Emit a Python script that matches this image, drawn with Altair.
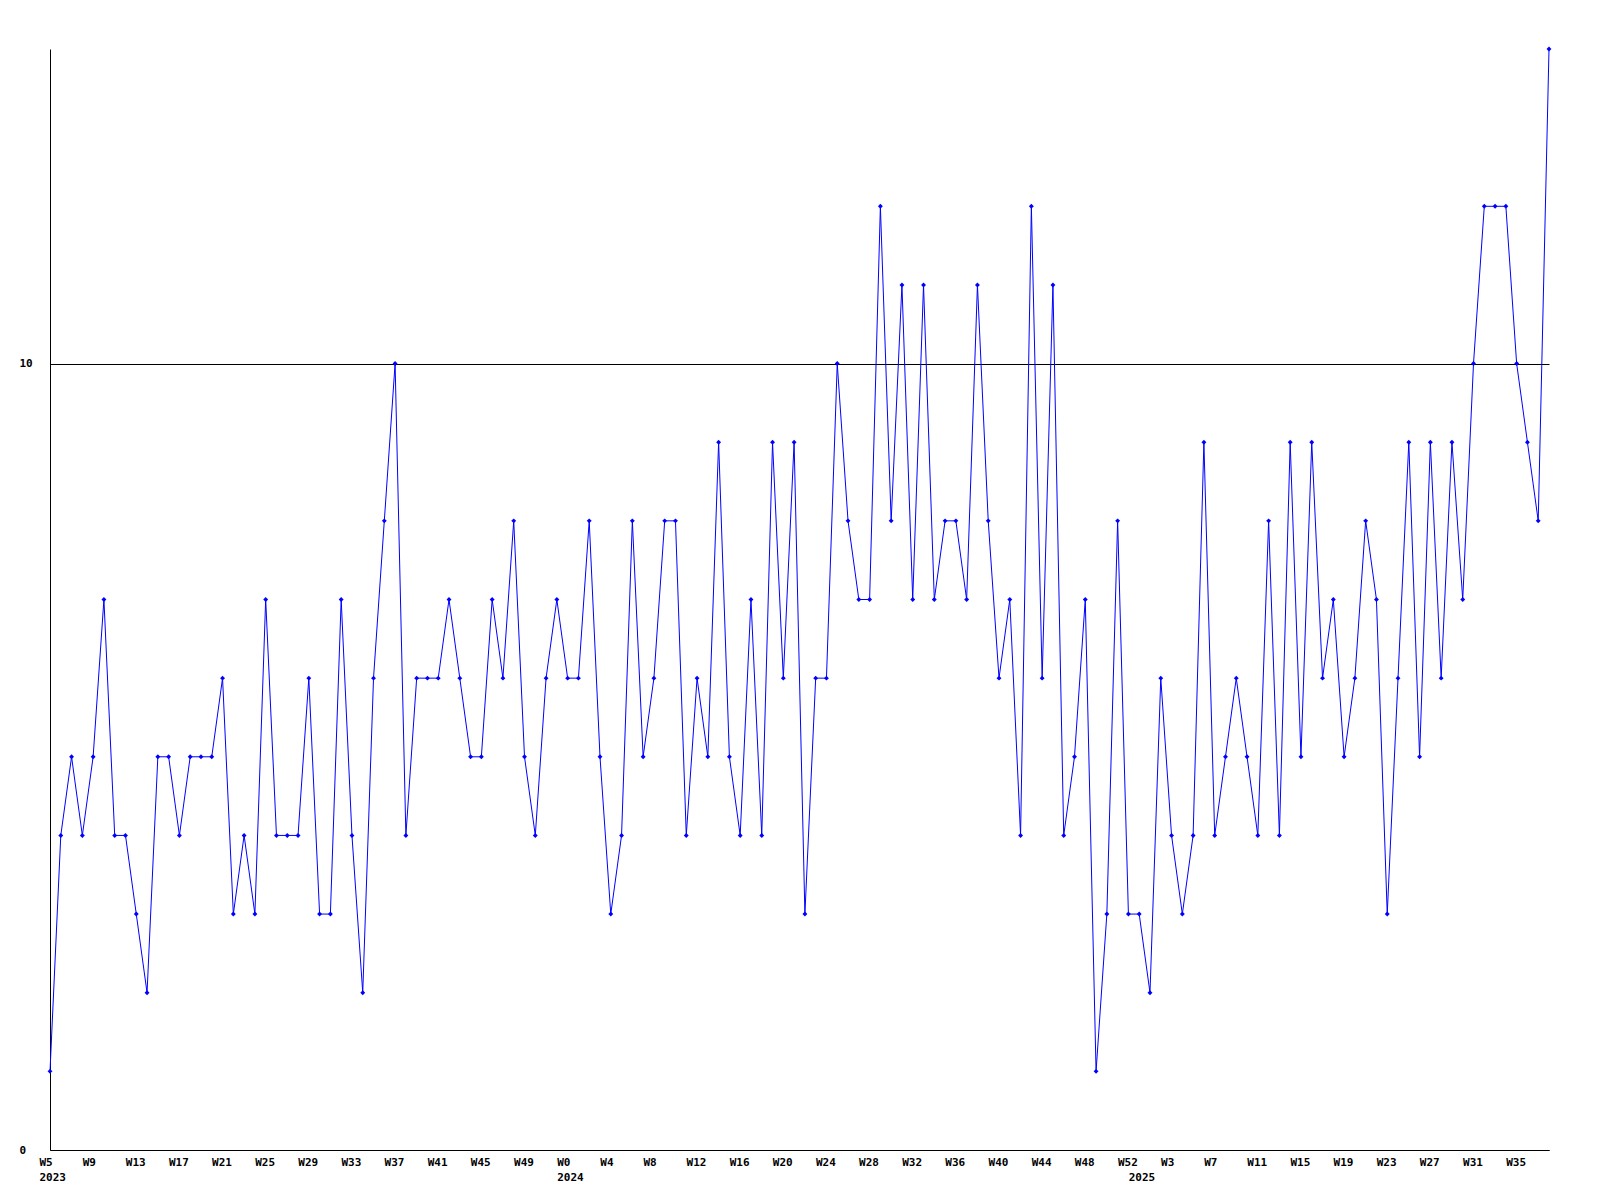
import json
import altair as alt
import pandas as pd

# Weekly values, 2023 W5 .. 2025 W38
values = [1, 4, 5, 4, 5, 7, 4, 4, 3, 2,
          5, 5, 4, 5, 5, 5, 6, 3, 4, 3,
          7, 4, 4, 4, 6, 3, 3, 7, 4, 2,
          6, 8, 10, 4, 6, 6, 6, 7, 6, 5,
          5, 7, 6, 8, 5, 4, 6, 7, 6, 6,
          8, 5, 3, 4, 8, 5, 6, 8, 8, 4,
          6, 5, 9, 5, 4, 7, 4, 9, 6, 9,
          3, 6, 6, 10, 8, 7, 7, 12, 8, 11,
          7, 11, 7, 8, 8, 7, 11, 8, 6, 7,
          4, 12, 6, 11, 4, 5, 7, 1, 3, 8,
          3, 3, 2, 6, 4, 3, 4, 9, 4, 5,
          6, 5, 4, 8, 4, 9, 5, 9, 6, 7,
          5, 6, 8, 7, 3, 6, 9, 5, 9, 6,
          9, 7, 10, 12, 12, 12, 10, 9, 8, 14]

year_names = ["2023", "2024", "2025"]
year_first_week = [5, 0, 0]
year_week_count = [48, 53, 39]

weeks = []
years = []
year_start_idx = []
for name, first, count in zip(year_names, year_first_week, year_week_count):
    year_start_idx.append(len(weeks))
    for k in range(count):
        weeks.append(first + k)
        years.append(name)

idx = list(range(len(values)))
df = pd.DataFrame({"i": idx, "v": values, "week": weeks, "year": years})

# tick labels: every 4th week, plus year start positions
tick_idx = sorted(set(list(range(0, len(values), 4)) + year_start_idx))
tick_text = []
for t in tick_idx:
    wl = ("W%d" % weeks[t]) if t % 4 == 0 else ""
    yl = years[t] if t in year_start_idx else ""
    tick_text.append([wl, yl])

label_expr = "%s[indexof(%s, datum.value)]" % (json.dumps(tick_text), json.dumps(tick_idx))

FONT = "DejaVu Sans Mono"

x = alt.X("i:Q",
          scale=alt.Scale(domain=[0, len(values) - 1], nice=False, zero=False),
          axis=alt.Axis(values=tick_idx, labelExpr=label_expr, title=None,
                        grid=False, ticks=False, tickSize=0,
                        labelAlign="left", labelBaseline="top", labelOffset=-11,
                        labelPadding=6, labelFont=FONT, labelFontWeight="bold",
                        labelFontSize=11, labelColor="black", labelLineHeight=15,
                        labelOverlap=False, labelFlush=False, labelBound=False,
                        domainColor="black", domainWidth=1))
y = alt.Y("v:Q",
          scale=alt.Scale(domain=[0, 14], nice=False),
          axis=alt.Axis(values=[0, 10], title=None, grid=True, gridColor="black",
                        gridOpacity=1, gridWidth=1, ticks=False, tickSize=0,
                        labelAlign="left", labelBaseline="middle", labelPadding=31,
                        labelFont=FONT, labelFontWeight="bold", labelFontSize=11,
                        labelColor="black", domainColor="black", domainWidth=1))

base = alt.Chart(df)
line = base.mark_line(color="#0000ff", strokeWidth=1).encode(x=x, y=y)
pts = base.mark_point(shape="diamond", filled=True, size=24, color="#0000ff",
                      opacity=1).encode(x=x, y=y)

chart = alt.layer(line, pts).properties(
    width=1499, height=1101,
    autosize=alt.AutoSizeParams(type="none"),
    padding={"left": 42, "top": 41, "right": 20, "bottom": 50},
    background="white",
).configure_view(stroke=None)

chart.save("out.html", embed_options={"renderer": "svg", "actions": False})
